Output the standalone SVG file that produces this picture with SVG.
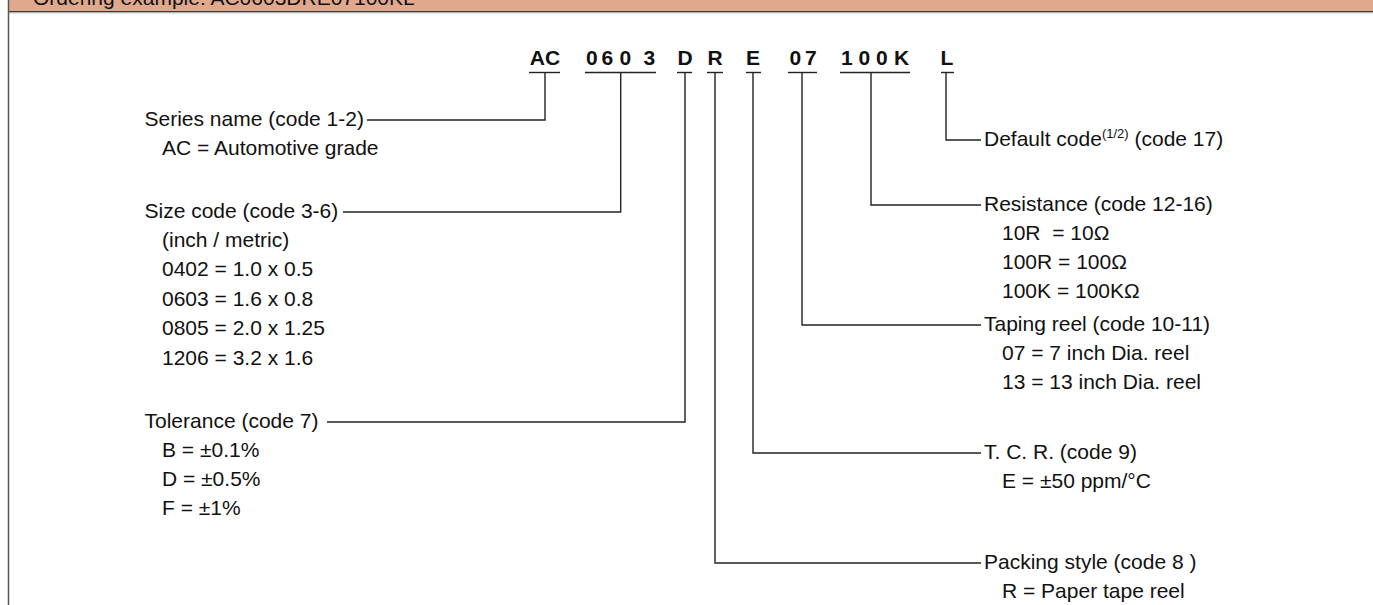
<svg xmlns="http://www.w3.org/2000/svg" width="1373" height="605" viewBox="0 0 1373 605">
<style>
text{font-family:"Liberation Sans",Arial,sans-serif;font-size:21px;fill:#111}
.code{font-weight:bold}
.ln{fill:none;stroke:#222;stroke-width:1.4}
.ul{stroke:#222;stroke-width:1.4}
</style>
<rect x="0" y="0" width="1373" height="605" fill="#fff"/>
<g id="header">
<rect x="9" y="0" width="1364" height="11.5" fill="#E0A88C"/>
<line x1="9" y1="11.8" x2="1373" y2="11.8" stroke="#3a3a3a" stroke-width="1.5"/>
<line x1="9" y1="13" x2="1373" y2="13" stroke="#ccc" stroke-width="1"/>
<line x1="8.5" y1="0" x2="8.5" y2="605" stroke="#555" stroke-width="1.5"/>
<text x="33" y="5">Ordering example: AC0603DRE07100KL</text>
</g>
<g id="code">
<text class="code" x="545" y="65" text-anchor="middle">AC</text>
<text class="code" x="586 597.7 601.5 613.2 619.5 631.2 643.5" y="65" xml:space="preserve">0 6 0 3</text>
<text class="code" x="685" y="65" text-anchor="middle">D</text>
<text class="code" x="715" y="65" text-anchor="middle">R</text>
<text class="code" x="753" y="65" text-anchor="middle">E</text>
<text class="code" x="789.5 801.2 805" y="65" xml:space="preserve">0 7</text>
<text class="code" x="841 852.7 858.5 870.2 876 887.7 894" y="65" xml:space="preserve">1 0 0 K</text>
<text class="code" x="947" y="65" text-anchor="middle">L</text>
<line class="ul" x1="529" y1="72.5" x2="560" y2="72.5"/>
<line class="ul" x1="585" y1="72.5" x2="656" y2="72.5"/>
<line class="ul" x1="677" y1="72.5" x2="692" y2="72.5"/>
<line class="ul" x1="707" y1="72.5" x2="723" y2="72.5"/>
<line class="ul" x1="746" y1="72.5" x2="761" y2="72.5"/>
<line class="ul" x1="788" y1="72.5" x2="817" y2="72.5"/>
<line class="ul" x1="840" y1="72.5" x2="910" y2="72.5"/>
<line class="ul" x1="941" y1="72.5" x2="954" y2="72.5"/>
</g>
<g id="connectors">
<path class="ln" d="M545 72.5V120H367"/>
<path class="ln" d="M620.7 72.5V212H343"/>
<path class="ln" d="M685 72.5V422H327"/>
<path class="ln" d="M715 72.5V563H981"/>
<path class="ln" d="M753 72.5V453H981"/>
<path class="ln" d="M802 72.5V325H981"/>
<path class="ln" d="M871 72.5V205H981"/>
<path class="ln" d="M946 72.5V140H981"/>
</g>
<g id="series">
<text x="144.5" y="125.5">Series name (code 1-2)</text>
<text x="162" y="154.8">AC = Automotive grade</text>
</g>
<g id="size">
<text x="144.5" y="217.5">Size code (code 3-6)</text>
<text x="162" y="246.9">(inch / metric)</text>
<text x="162" y="276.3">0402 = 1.0 x 0.5</text>
<text x="162" y="305.7">0603 = 1.6 x 0.8</text>
<text x="162" y="335.1">0805 = 2.0 x 1.25</text>
<text x="162" y="364.5">1206 = 3.2 x 1.6</text>
</g>
<g id="tolerance">
<text x="144.5" y="427.5">Tolerance (code 7)</text>
<text x="162" y="456.8">B = ±0.1%</text>
<text x="162" y="486.1">D = ±0.5%</text>
<text x="162" y="515.4">F = ±1%</text>
</g>
<g id="default">
<text x="984" y="145.5">Default code<tspan font-size="13" dy="-8">(1/2)</tspan><tspan dy="8"> (code 17)</tspan></text>
</g>
<g id="resistance">
<text x="984" y="210.5">Resistance (code 12-16)</text>
<text x="1002" y="239.8" xml:space="preserve">10R  = 10Ω</text>
<text x="1002" y="269.1">100R = 100Ω</text>
<text x="1002" y="298.4">100K = 100KΩ</text>
</g>
<g id="taping">
<text x="984" y="330.5">Taping reel (code 10-11)</text>
<text x="1002" y="359.8">07 = 7 inch Dia. reel</text>
<text x="1002" y="389.1">13 = 13 inch Dia. reel</text>
</g>
<g id="tcr">
<text x="984" y="458.5">T. C. R. (code 9)</text>
<text x="1002" y="487.8">E = ±50 ppm/°C</text>
</g>
<g id="packing">
<text x="984" y="568.5">Packing style (code 8 )</text>
<text x="1002" y="597.5">R = Paper tape reel</text>
</g>
</svg>
